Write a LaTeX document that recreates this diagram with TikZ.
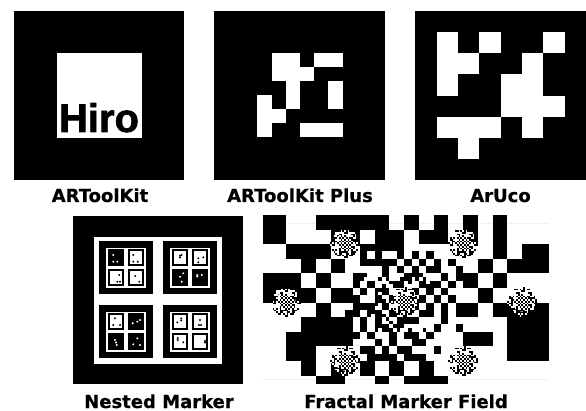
\documentclass[tikz,border=0pt]{standalone}
\usepackage{fontspec}
\newfontfamily\capfont[BoldFeatures={FakeBold=0.6}]{DejaVu Sans}
\newfontfamily\hirofont[BoldFeatures={FakeBold=1.6}]{Liberation Sans}
\tikzset{
  markerbg/.style={fill=black},
  markerbit/.style={fill=white},
  caption/.style={anchor=base, inner sep=0pt, font=\capfont\bfseries\fontsize{18}{20}\selectfont},
  blobmark/.pic={
    \fill[white] (0,0) circle (10);
    \foreach \i in {-8,...,8}
      \foreach \j in {-8,...,8} {
        \pgfmathtruncatemacro\dd{\i*\i+\j*\j}
        \pgfmathtruncatemacro\pp{mod(abs(\i*\i*5+\j*\j*3+\i*\j*2+\j+11),7)}
        \pgfmathtruncatemacro\ee{mod(abs(\i+\j),2)}
        \ifnum\dd<20
          \ifnum\ee=0 \fill[black] (\i*1.75-.875,\j*1.75-.875) rectangle +(1.75,1.75); \fi
        \else\ifnum\dd<66
          \ifnum\pp<3 \fill[black] (\i*1.75-.875,\j*1.75-.875) rectangle +(1.75,1.75);
          \else\ifnum\pp<6 \fill[white] (\i*1.75-.875,\j*1.75-.875) rectangle +(1.75,1.75); \fi\fi
        \fi\fi
      }
  }
}
\begin{document}
\begin{tikzpicture}[x=1pt,y=-1pt]
  \useasboundingbox (0,0) rectangle (586,411);
  \fill[white] (0,0) rectangle (586,411);

  % ARToolKit
  \fill[markerbg] (14,11) rectangle (184,180);
  \fill[markerbit] (56.5,53) rectangle (142,138);
  \node[anchor=base, inner sep=0pt, font=\hirofont\bfseries\fontsize{40}{40}\selectfont] (hiro) at (99,132) {Hiro};
  \node[caption] (toolkit) at (100,202) {ARToolKit};

  % ARToolKit Plus
  \fill[markerbg] (214.3,11) rectangle (385,180);
  \begin{scope}[shift={(257.3,53.3)},x=14.2pt,y=-14pt]
    \foreach \c/\r/\w in {1/0/2, 4/0/2, 1/1/3, 2/2/1, 5/2/1, 0/3/1, 2/3/1, 5/3/1, 0/4/2, 0/5/1, 3/5/3}
      \fill[markerbit] (\c,\r) rectangle +(\w,1);
  \end{scope}
  \node[caption] (toolkitplus) at (300,202) {ARToolKit Plus};

  % ArUco
  \fill[markerbg] (415.3,11) rectangle (586,180);
  \begin{scope}[shift={(436.7,32.3)},x=21.3pt,y=-21.1pt]
    \foreach \c/\r/\w in {0/0/1, 2/0/1, 5/0/1, 0/1/2, 4/1/1, 0/2/1, 3/2/2, 3/3/3, 0/4/3, 4/4/1, 1/5/1}
      \fill[markerbit] (\c,\r) rectangle +(\w,1);
  \end{scope}
  \node[caption] (aruco) at (500.5,202) {ArUco};

  % Nested Marker
  \fill[markerbg] (73.3,215.7) rectangle (243.3,384.3);
  \fill[markerbit] (94.3,236.7) rectangle (222.3,363.7);
  \foreach \tx/\ty/\a/\b/\c/\d in {99.3/241/0/1/1/1, 163.3/241/1/1/0/0, 99.3/305/1/0/0/0, 163.3/305/1/1/1/1} {
    \fill[markerbg] (\tx,\ty) rectangle +(53.4,53.4);
    \fill[markerbit] (\tx+6.7,\ty+6.7) rectangle +(40,40);
    \foreach \sx/\sy/\v in {1.6/1.6/\a, 21.7/1.6/\b, 1.6/21.7/\c, 21.7/21.7/\d} {
      \fill[markerbg] (\tx+6.7+\sx,\ty+6.7+\sy) rectangle +(16.7,16.7);
      \ifnum\v=1 \fill[markerbit] (\tx+8.8+\sx,\ty+8.8+\sy) rectangle +(12.5,12.5); \fi
    }
  }
  \foreach \x/\y in {113.3/255, 113.3/261.7, 117.3/261.7, 183.3/273.3, 180/276.7, 181.7/281.7,
      197.3/275, 197.3/276.5, 201.7/275, 132.7/323.3, 137.3/321.7, 140/320, 115/340, 116/342.5, 116.7/345,
      133.3/344.3, 137.3/338.3, 140/345}
    \fill[white] (\x,\y) circle (1.1);
  \foreach \x/\y in {133.3/255, 133.3/261.7, 137.7/261.7, 119.3/275, 117.3/281.7, 120/281.7, 135.3/276, 139.3/281.7,
      180/255.7, 181.5/255, 180/257.5, 198.3/258.3, 203.3/257.3, 198.3/262.3,
      115/318.3, 113.3/325, 120/325, 177.3/322.3, 181.3/318.5, 181.3/320.5, 200/320, 199/325, 201/325,
      177.7/338, 177.7/340, 183.3/342.3, 205/341, 206.5/340, 205/342.5}
    \fill[black] (\x,\y) circle (1.1);
  \node[caption] (nested) at (159,408) {Nested Marker};

  % Fractal Marker Field
  \draw[black!6] (263,223) -- (549,223) (263,379) -- (549,379);
  \begin{scope}[shift={(286.33,215)},x=14.73pt,y=-14.6pt]
    % big cells: k/j/w/h
    \foreach \k/\j/\w/\h in {
        -1.58/0/1.58/2, 2/0/5/1, 8/0/1/1, 10/0/1/1, 12/0/1/2, 14/0/1/3,
        3/1/2/1, 6/1/2/1, 9/1/2/1, 16/2/1.8/1,
        0/2/3/1, 5/2/3/.5, 1/3/1/1, 3/3/1/1, 13/3/1/1, 15/3/2.8/1,
        -1.58/4/2.58/1, 2/4/1/1, 12/4/1/1, 14/4/1/1,
        -1.58/5/3.58/1, 3/5/1.5/1, 13/5/1/1,
        2/6/1/1, 11.5/6/1.5/1, 14/6/3.8/1,
        1/7/3.5/1, 15/7/2.8/3,
        0/8/5/.5, 0/8.5/4.5/.5, 12/8/2/1,
        0/9/2/1, 1/10/1/1, 3/10/1/1, 5/10/1/1, 7/10/1/1, 9/10/1/1,
        2/11/2/.6, 6/11/1/.6, 8/11/3/.6}
      \fill[black] (\k,\j) rectangle +(\w,\h);
    % half cells, row by row
    \foreach \j/\cols in {
        2.5/{5,6,7.5,8.5,9.5},
        3/{5,5.5,6,6.5,7,8,9,10,11},
        3.5/{6.5,7.5,8.5,9.5,10,11.5},
        4/{4.5,5,6.5,8,8.5,10.5,11.5},
        4.5/{4.5,5.5,7,7.5,9,9.5,10,11},
        5/{5,6,6.5,8.5,9.5,10.5},
        5.5/{4.5,6,7,9,10,11},
        6/{4.5,5,5.5,6.5,8.5,9.5,10.5},
        6.5/{4,4.5,5.5,6,7,9,9.5,10.5},
        7/{5,6,7.5,8,8.5,10.5},
        7.5/{5,6,6.5,7.5,10,11.5},
        8/{5.5,7,8,8.5,9.5},
        8.5/{6,7,8.5,9},
        9/{5,5.5,6.5,7.5,8,10},
        9.5/{5.5,6,6.5,7,8,8.5,9}}
      \foreach \k in \cols
        \fill[black] (\k,\j) rectangle +(.5,.5);
    % quarter cells around the middle
    \foreach \k/\j in {6.25/4.25, 6.5/4.75, 6/5.25, 6.25/5.5, 6.75/5.25, 6.5/5.75, 6/6, 5.75/6.25, 6.25/6.5,
        6.5/6.75, 6.75/7, 7/7.25, 7.25/7.5, 7/7.75, 7.5/7.25, 8.75/7.25, 8.25/7.75, 9.25/7.75,
        8.75/4.25, 8.5/3.75, 9/4, 9.25/4.25, 9.5/3.75, 8.25/4.5, 7.75/4.25}
      \fill[black] (\k,\j) rectangle +(.25,.25);
    \foreach \k/\j in {6.5/4.25, 6.75/4.5, 7/4.75, 6.25/5.25, 8.5/4.25, 9.5/4.5, 5.25/4.25, 5.75/6.75, 7.75/7.75, 6.25/7.75}
      \fill[white] (\k,\j) rectangle +(.25,.25);
  \end{scope}
  \foreach \x/\y in {345/243.3, 463/243.3, 285.7/301.7, 404/301.7, 522.3/301.7, 345/360.7, 463/360.7}
    \pic at (\x,\y) {blobmark};
  \node[caption] (fractal) at (406,408) {Fractal Marker Field};
\end{tikzpicture}
\end{document}
